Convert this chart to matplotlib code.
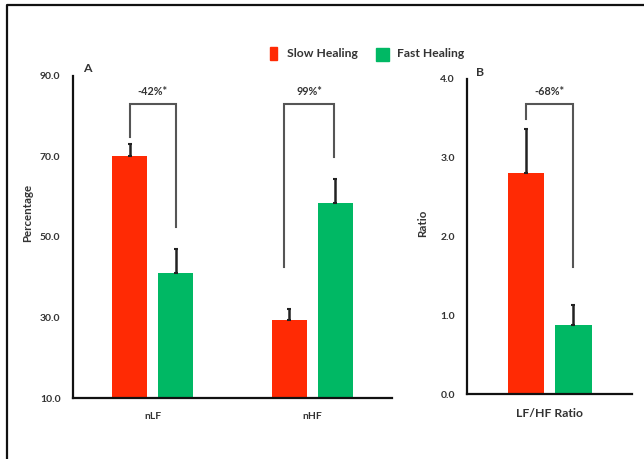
import matplotlib
matplotlib.use("Agg")
import matplotlib.pyplot as plt
from matplotlib.patches import Rectangle
from matplotlib.lines import Line2D

plt.rcParams['font.family'] = ['Lato', 'DejaVu Sans']

# ---- data -------------------------------------------------------------
hrv_categories = ["nLF", "nHF"]
slow_hrv = [70.2, 29.4]
slow_hrv_err = [2.9, 2.8]
fast_hrv = [41.0, 58.4]
fast_hrv_err = [5.9, 6.0]
hrv_changes = ["-42%*", "99%*"]

ratio_category = ["LF/HF Ratio"]
slow_ratio = [2.81]
slow_ratio_err = [0.55]
fast_ratio = [0.88]
fast_ratio_err = [0.25]
ratio_change = ["-68%*"]

hrv_ticks = [10.0, 30.0, 50.0, 70.0, 90.0]
ratio_ticks = [0.0, 1.0, 2.0, 3.0, 4.0]

RED = "#FF2A04"
GREEN = "#00B864"
TXT = "#333333"
BRK = "#555555"

W, H = 644, 459
fig = plt.figure(figsize=(W / 100, H / 100), dpi=100)

off = 0.143
bw = 0.22


def draw_panel(ax, cats, slow, slow_err, fast, fast_err, ticks, ylabel,
               label_xy, cat_size, cat_pad):
    xs = list(range(len(cats)))
    xl = [x - off for x in xs]
    xr = [x + off for x in xs]
    ax.bar(xl, slow, bw, bottom=0, color=RED, zorder=2)
    ax.bar(xr, fast, bw, bottom=0, color=GREEN, zorder=2)
    ax.errorbar(xl, slow, yerr=[[0] * len(xs), slow_err], fmt="none",
                ecolor="#222222", elinewidth=1.8, capsize=1.5, capthick=1.5, zorder=3)
    ax.errorbar(xr, fast, yerr=[[0] * len(xs), fast_err], fmt="none",
                ecolor="#222222", elinewidth=1.8, capsize=1.5, capthick=1.5, zorder=3)
    ax.set_yticks(ticks)
    ax.set_yticklabels([f"{t:.1f}" for t in ticks], fontsize=7.5,
                       fontweight="bold", color=TXT)
    ax.set_xticks(xs)
    ax.set_xticklabels(cats, fontsize=cat_size, fontweight="bold", color=TXT)
    ax.tick_params(axis="y", length=0, pad=9)
    ax.tick_params(axis="x", length=0, pad=cat_pad)
    for s in ("top", "right"):
        ax.spines[s].set_visible(False)
    for s in ("left", "bottom"):
        ax.spines[s].set_linewidth(1.6)
        ax.spines[s].set_color("#111111")
    ax.set_ylabel(ylabel, fontsize=8.3, fontweight="bold", color=TXT)
    ax.yaxis.set_label_coords(*label_xy)
    return xl, xr


def bracket(ax, x0, x1, y_top, y0, y1, text):
    ax.plot([x0, x0, x1, x1], [y0, y_top, y_top, y1], color=BRK, lw=1.5,
            solid_joinstyle="miter", zorder=1, clip_on=False)
    ax.annotate(text, xy=((x0 + x1) / 2, y_top), xytext=(0, 5),
                textcoords="offset points", ha="center", va="bottom",
                fontsize=7.8, fontweight="bold", color=TXT)


# ---- panel A ------------------------------------------------------------
axA = fig.add_axes([73 / W, 1 - 398 / H, 319 / W, 322 / H])
axA.set_xlim(-0.5, 1.5)
axA.set_ylim(10, 90)
xl, xr = draw_panel(axA, hrv_categories, slow_hrv, slow_hrv_err, fast_hrv,
                    fast_hrv_err, hrv_ticks, "Percentage", (-0.125, 0.575),
                    7.5, 10)
bracket(axA, xl[0], xr[0], 83.0, 74.9, 52.4, hrv_changes[0])
bracket(axA, xl[1] - 0.035, xr[1] - 0.005, 83.0, 42.5, 70.0, hrv_changes[1])
axA.text(87 / W, 1 - 69 / H, "A", transform=fig.transFigure, ha="center",
         va="center", fontsize=8.8, fontweight="bold", color=TXT)

# ---- panel B ------------------------------------------------------------
axB = fig.add_axes([467.3 / W, 1 - 394.3 / H, 165 / W, 315.3 / H])
axB.set_xlim(-0.5, 0.5)
axB.set_ylim(0, 4)
xl, xr = draw_panel(axB, ratio_category, slow_ratio, slow_ratio_err,
                    fast_ratio, fast_ratio_err, ratio_ticks, "Ratio",
                    (-0.235, 0.542), 8.8, 10)
bracket(axB, xl[0], xr[0], 3.68, 3.49, 1.61, ratio_change[0])
axB.text(480 / W, 1 - 72.5 / H, "B", transform=fig.transFigure, ha="center",
         va="center", fontsize=8.8, fontweight="bold", color=TXT)

# ---- legend ---------------------------------------------------------------
fig.add_artist(Rectangle((270 / W, 1 - 60 / H), 7 / W, 13 / H,
                         transform=fig.transFigure, color=RED))
fig.text(287 / W, 1 - 53.5 / H, "Slow Healing", ha="left", va="center",
         fontsize=8.7, fontweight="bold", color=TXT)
fig.add_artist(Rectangle((376 / W, 1 - 61 / H), 13 / W, 13 / H,
                         transform=fig.transFigure, color=GREEN))
fig.text(397 / W, 1 - 53.5 / H, "Fast Healing", ha="left", va="center",
         fontsize=8.7, fontweight="bold", color=TXT)

# ---- outer frame ---------------------------------------------------------
fig.add_artist(Line2D([7 / W, 7 / W, 1.0], [0.0, 1 - 5 / H, 1 - 5 / H],
                      transform=fig.transFigure, color="#111111", lw=1.6))

fig.savefig("out.png", dpi=100)
